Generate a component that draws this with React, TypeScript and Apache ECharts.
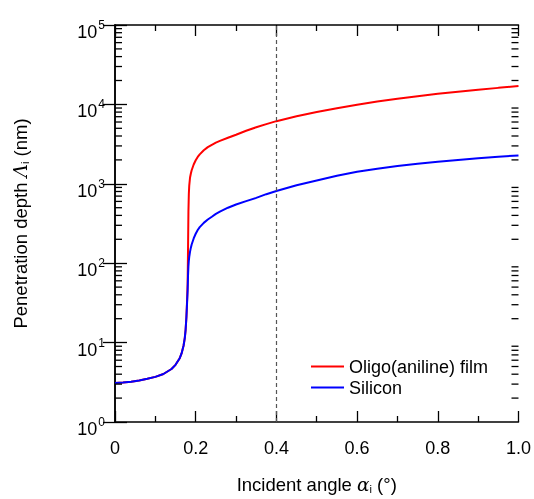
import React, { useEffect, useRef } from "react";
import * as echarts from "echarts";

const angles = [0, 0.02, 0.04, 0.06, 0.08, 0.1, 0.12, 0.14, 0.15, 0.16, 0.165, 0.17, 0.173, 0.175, 0.177, 0.178, 0.179, 0.18, 0.181, 0.182, 0.183, 0.184, 0.186, 0.188, 0.19, 0.195, 0.2, 0.205, 0.21, 0.22, 0.23, 0.24, 0.25, 0.26, 0.28, 0.3, 0.325, 0.35, 0.375, 0.4, 0.45, 0.5, 0.55, 0.6, 0.65, 0.7, 0.75, 0.8, 0.85, 0.9, 0.95, 1.0];
const filmDepth = [3.1, 3.14, 3.22, 3.34, 3.5, 3.7, 4.02, 4.65, 5.25, 6.3, 7.3, 9.2, 11.5, 14.5, 21, 28, 38, 55, 150, 450, 750, 950, 1200, 1350, 1480, 1750, 1980, 2180, 2350, 2650, 2900, 3100, 3300, 3470, 3800, 4150, 4650, 5150, 5650, 6150, 7100, 8000, 8950, 9900, 10850, 11800, 12700, 13600, 14450, 15300, 16150, 17000];
const siliconDepth = [3.1, 3.14, 3.22, 3.34, 3.5, 3.7, 4.02, 4.65, 5.25, 6.3, 7.3, 9.2, 11.5, 14.5, 21, 27, 35, 45, 70, 92, 108, 120, 140, 157, 172, 205, 235, 262, 285, 322, 355, 385, 418, 445, 500, 548, 605, 665, 740, 810, 960, 1100, 1260, 1420, 1550, 1680, 1790, 1900, 2000, 2100, 2190, 2280];
const xTickLabels = ["0", "0.2", "0.4", "0.6", "0.8", "1.0"];
const yDecades = [1, 10, 100, 1000, 10000, 100000];
const minorLogTicks = [2, 3, 4, 5, 6, 7, 8, 9, 20, 30, 40, 50, 60, 70, 80, 90, 200, 300, 400, 500, 600, 700, 800, 900, 2000, 3000, 4000, 5000, 6000, 7000, 8000, 9000, 20000, 30000, 40000, 50000, 60000, 70000, 80000, 90000];
const markerAngle = 0.4;

const FONT = "'Liberation Sans', Arial, sans-serif";

export default function App() {
  const ref = useRef<HTMLDivElement>(null);
  useEffect(() => {
    if (!ref.current) return;
    const chart = echarts.init(ref.current, null, { renderer: "svg" });
    const labelMap: Record<string, string> = {};
    xTickLabels.forEach((l) => (labelMap[String(parseFloat(l))] = l));
    const supRich = {
      b: { fontSize: 18, fontFamily: FONT, color: "#000", lineHeight: 28, verticalAlign: "bottom" },
      s: { fontSize: 12, fontFamily: FONT, color: "#000", lineHeight: 12, verticalAlign: "top", padding: [6, 0, 0, 1] },
    };
    const option: any = {
      animation: false,
      grid: { left: 115, right: 14, top: 25, bottom: 70 },
      legend: {
        data: ["Oligo(aniline) film", "Silicon"],
        orient: "vertical",
        left: 311,
        top: 356,
        padding: 0,
        icon: "rect",
        itemWidth: 33,
        itemHeight: 2,
        itemGap: 0,
        textStyle: { fontSize: 18, fontFamily: FONT, color: "#000", lineHeight: 21 },
      },
      xAxis: [
        {
          type: "value",
          min: 0,
          max: 1,
          interval: 0.2,
          name: "Incident angle {a|α}{sub|i} (°)",
          nameLocation: "middle",
          nameGap: 53,
          nameTextStyle: {
            fontSize: 18.5,
            fontFamily: FONT,
            color: "#000",
            rich: {
              a: { fontSize: 18.5, fontFamily: "'DejaVu Serif', serif", fontStyle: "italic", color: "#000" },
              sub: { fontSize: 11, fontFamily: FONT, color: "#000", verticalAlign: "bottom", padding: [8, 0, 0, 0] },
            },
          },
          axisLine: { show: true, lineStyle: { color: "#000", width: 1.5 } },
          axisTick: { show: true, inside: true, length: 11, lineStyle: { color: "#000", width: 1.3 } },
          minorTick: { show: true, splitNumber: 2, length: 6, lineStyle: { color: "#000", width: 1.3 } },
          splitLine: { show: false },
          axisLabel: {
            margin: 17,
            fontSize: 18,
            fontFamily: FONT,
            color: "#000",
            formatter: (v: number) => labelMap[String(Math.round(v * 10) / 10)] ?? "",
          },
        },
        {
          type: "value",
          position: "top",
          min: 0,
          max: 1,
          interval: 0.2,
          axisLine: { show: true, lineStyle: { color: "#000", width: 1.5 } },
          axisTick: { show: true, inside: true, length: 11, lineStyle: { color: "#000", width: 1.3 } },
          minorTick: { show: true, splitNumber: 2, length: 6, lineStyle: { color: "#000", width: 1.3 } },
          splitLine: { show: false },
          axisLabel: { show: false },
        },
      ],
      yAxis: [
        {
          type: "log",
          logBase: 10,
          min: yDecades[0],
          max: yDecades[yDecades.length - 1],
          name: "Penetration depth {l|Λ}{sub|i} (nm)",
          nameLocation: "middle",
          nameGap: 85,
          nameTextStyle: {
            fontSize: 18.5,
            fontFamily: FONT,
            color: "#000",
            rich: {
              l: { fontSize: 18.5, fontFamily: "'DejaVu Serif', serif", fontStyle: "italic", color: "#000" },
              sub: { fontSize: 11, fontFamily: FONT, color: "#000", verticalAlign: "bottom", padding: [8, 0, 0, 0] },
            },
          },
          axisLine: { show: true, lineStyle: { color: "#000", width: 1.5 } },
          axisTick: { show: true, inside: true, length: 12, lineStyle: { color: "#000", width: 1.3 } },
          minorTick: { show: false },
          splitLine: { show: false },
          axisLabel: {
            margin: 10,
            padding: [4, 0, 0, 0],
            formatter: (v: number) => `{b|10}{s|${Math.round(Math.log10(v))}}`,
            rich: supRich,
          },
        },
        {
          type: "log",
          logBase: 10,
          position: "right",
          min: yDecades[0],
          max: yDecades[yDecades.length - 1],
          axisLine: { show: true, lineStyle: { color: "#000", width: 1.5 } },
          axisTick: { show: true, inside: true, length: 12, lineStyle: { color: "#000", width: 1.3 } },
          splitLine: { show: false },
          axisLabel: { show: false },
        },
      ],
      series: [
        {
          name: "Oligo(aniline) film",
          type: "line",
          symbol: "none",
          data: angles.map((a, i) => [a, filmDepth[i]]),
          lineStyle: { color: "#ff0000", width: 2 },
          itemStyle: { color: "#ff0000" },
          z: 3,
          markLine: {
            silent: true,
            symbol: "none",
            label: { show: false },
            lineStyle: { color: "#555", type: [4, 3], width: 1.2 },
            data: [{ xAxis: markerAngle }],
          },
        },
        {
          name: "Silicon",
          type: "line",
          symbol: "none",
          data: angles.map((a, i) => [a, siliconDepth[i]]),
          lineStyle: { color: "#0000ff", width: 2 },
          itemStyle: { color: "#0000ff" },
          z: 4,
        },
        {
          name: "minorTicks",
          type: "custom",
          silent: true,
          z: 5,
          data: minorLogTicks.map((v) => [0, v]),
          renderItem: (params: any, api: any) => {
            const cs = params.coordSys;
            const p = api.coord([0, api.value(1)]);
            const style = { stroke: "#000", lineWidth: 1.3 };
            return {
              type: "group",
              children: [
                { type: "line", shape: { x1: cs.x, y1: p[1], x2: cs.x + 7, y2: p[1] }, style },
                { type: "line", shape: { x1: cs.x + cs.width - 7, y1: p[1], x2: cs.x + cs.width, y2: p[1] }, style },
              ],
            };
          },
        },
      ],
    };
    chart.setOption(option);
    return () => chart.dispose();
  }, []);
  return <div ref={ref} style={{ position: "fixed", left: 0, top: 0, width: 534, height: 499 }} />;
}
